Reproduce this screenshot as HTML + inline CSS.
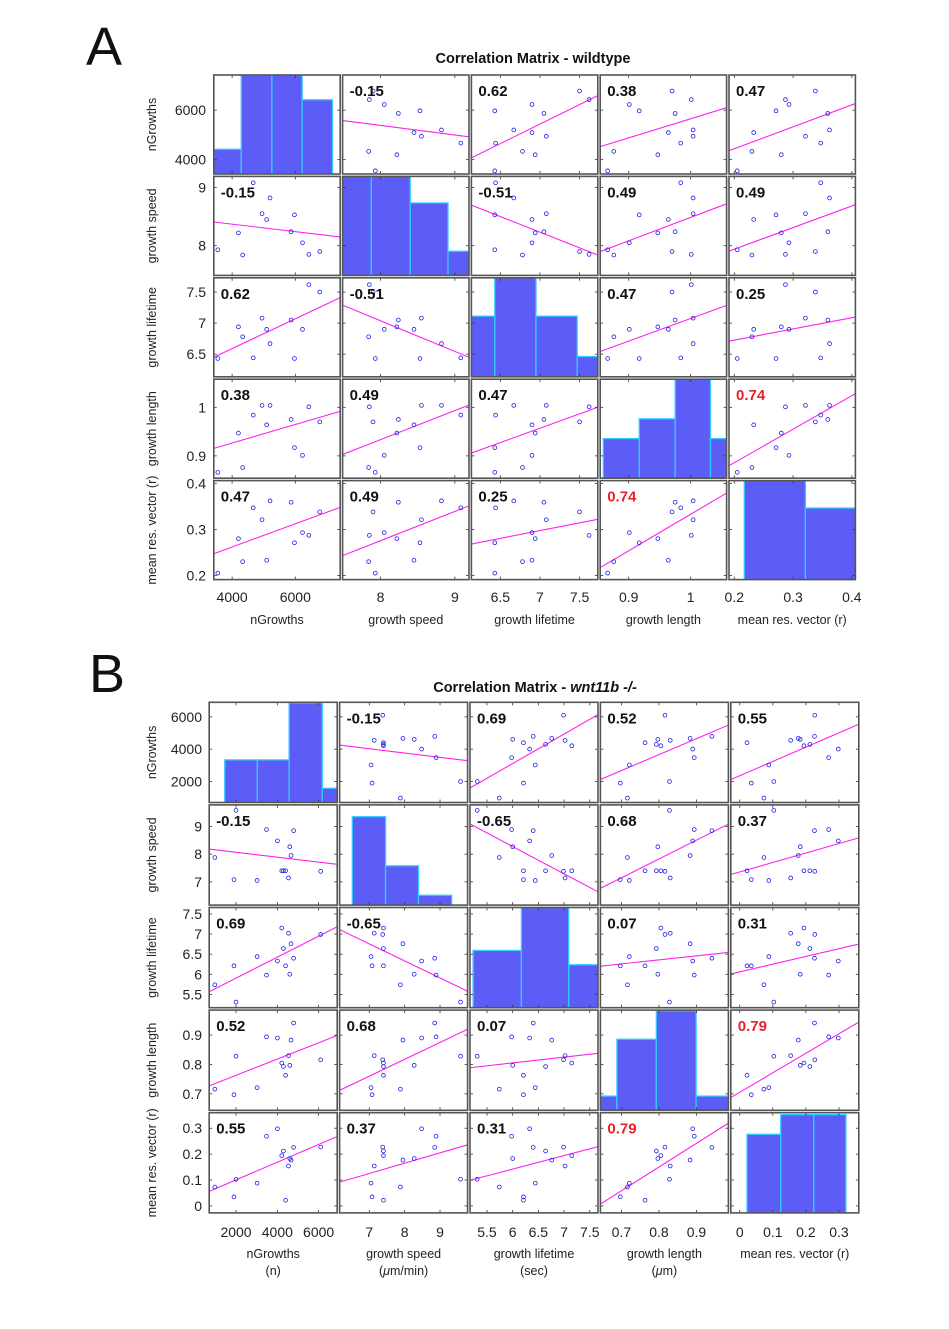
<!DOCTYPE html>
<html><head><meta charset="utf-8"><style>
html,body{margin:0;padding:0;background:#fff;}
svg{display:block;font-family:"Liberation Sans",Arial,sans-serif;}
</style></head><body>
<svg id="fig" width="949" height="1329" viewBox="0 0 949 1329" xmlns="http://www.w3.org/2000/svg"></svg>
<script>
// ---------- Panel A data (wildtype) ----------
const aNGrowths = [3547,4200,4333,4667,4947,5093,5200,5867,5973,6227,6427,6773];
const aSpeed    = [7.93,8.22,7.84,9.08,8.55,8.45,8.82,8.24,8.53,8.05,7.85,7.90];
const aLifetime = [6.43,6.94,6.78,6.44,7.08,6.90,6.67,7.05,6.43,6.90,7.62,7.50];
const aLength   = [0.866,0.947,0.876,0.984,1.004,0.964,1.004,0.975,0.917,0.901,1.001,0.970];
const aMRV      = [0.205,0.280,0.230,0.347,0.321,0.233,0.362,0.359,0.271,0.293,0.287,0.338];
const aCorr = ["-0.15","0.62","0.38","0.47","-0.51","0.49","0.49","0.47","0.25","0.74"];
const aTicks = [[4000,6000],[8,9],[6.5,7,7.5],[0.9,1],[0.2,0.3,0.4]];
const aTickLabels = [["4000","6000"],["8","9"],["6.5","7","7.5"],["0.9","1"],["0.2","0.3","0.4"]];
const aRanges = [[3420,7420],[7.49,9.19],[6.135,7.73],[0.854,1.058],[0.191,0.406]];
const aHistEdges = [[3419,4289,5259,6217,7174],[7.41,7.876,8.40,8.908,9.42],[5.91,6.43,6.95,7.47,7.99],[0.859,0.917,0.975,1.032,1.09],[0.217,0.321,0.425]];
const aHistCounts = [[1,4,4,3],[5,5,3,1],[3,6,3,1],[2,3,6,2],[6,3]];
const aHistMax = [4.0,4.1,4.9,5.0,4.15];

// ---------- Panel B data (wnt11b -/-) ----------
const bNGrowths = [972,1900,2000,3021,3477,4006,4215,4295,4400,4541,4603,4665,4788,6098];
const bSpeed    = [7.88,7.08,9.58,7.05,8.89,8.48,7.40,7.40,7.40,7.14,8.27,7.95,8.85,7.38];
const bLifetime = [5.74,6.21,5.31,6.44,5.98,6.33,7.15,6.64,6.21,7.02,6.00,6.76,6.40,6.99];
const bLength   = [0.716,0.697,0.828,0.721,0.894,0.890,0.805,0.793,0.763,0.830,0.797,0.883,0.941,0.816];
const bMRV      = [0.073,0.035,0.103,0.088,0.269,0.298,0.194,0.212,0.022,0.154,0.183,0.177,0.226,0.227];
const bCorr = ["-0.15","0.69","0.52","0.55","-0.65","0.68","0.37","0.07","0.31","0.79"];
const bTicks = [[2000,4000,6000],[7,8,9],[5.5,6,6.5,7,7.5],[0.7,0.8,0.9],[0,0.1,0.2,0.3]];
const bTickLabels = [["2000","4000","6000"],["7","8","9"],["5.5","6","6.5","7","7.5"],["0.7","0.8","0.9"],["0","0.1","0.2","0.3"]];
const bRanges = [[700,6900],[6.16,9.78],[5.17,7.66],[0.644,0.985],[-0.027,0.36]];
const bHistEdges = [[1452,3033,4571,6176,7748],[6.52,7.46,8.39,9.33],[5.23,6.17,7.09,8.01],[0.582,0.688,0.793,0.899,1.004],[0.022,0.124,0.224,0.321]];
const bHistCounts = [[3,3,7,1],[9,4,1],[4,7,3],[1,5,7,1],[4,5,5]];
const bHistMax = [7.05,10.2,7.0,7.05,5.1];

const varNames = ["nGrowths","growth speed","growth lifetime","growth length","mean res. vector (r)"];
const varSlugs = ["ngrowths","growth-speed","growth-lifetime","growth-length","mean-res-vector"];
const bUnits = ["(n)","(\u03bcm/min)","(sec)","(\u03bcm)",""];

const NS = "http://www.w3.org/2000/svg";
const svg = document.getElementById('fig');
function mk(tag, attrs, parent){
  const e = document.createElementNS(NS, tag);
  for (const k in attrs) e.setAttribute(k, attrs[k]);
  (parent||svg).appendChild(e);
  return e;
}
let clipId = 0;

function drawPanel(cfg){
  const g = mk('g', {});
  
  
  const data = cfg.data;
  const pitchX = cfg.pitchX, pitchY = cfg.pitchY, gap = 2.4;
  const cw = pitchX - gap, chh = pitchY - gap;
  // letter
  const L = mk('text', {x: cfg.letterX, y: cfg.letterY, 'font-size': 54, fill: '#111'}, g);
  L.textContent = cfg.letter;
  
  
  // title
  const T = mk('text', {x: cfg.titleX, y: cfg.titleY, 'font-size': 14.5, 'font-weight': 'bold', 'text-anchor': 'middle', fill: '#111'}, g);
  
  
  if (cfg.italic) {
    const t1 = mk('tspan', {}, T); t1.textContent = 'Correlation Matrix - ';
    const t2 = mk('tspan', {'font-style': 'italic'}, T); t2.textContent = cfg.italic;
  } else T.textContent = cfg.title;

  const pairIndex = (i,j)=>{ // i<j
    let k=0; for (let a=0;a<5;a++) for (let b=a+1;b<5;b++){ if(a===i&&b===j) return k; k++; } return -1;
  };

  for (let r=0;r<5;r++){
    for (let c=0;c<5;c++){
      const x0 = cfg.x0 + c*pitchX, y0 = cfg.y0 + r*pitchY;
      const cell = mk('g', {}, g);
      
      
      const cid = 'clip' + (clipId++);
      const cp = mk('clipPath', {id: cid}, cell);
      mk('rect', {x: x0, y: y0, width: cw, height: chh}, cp);
      const inner = mk('g', {'clip-path': 'url(#' + cid + ')'}, cell);
      const xr = cfg.ranges[c], yr = cfg.ranges[r];
      const sx = v => x0 + (v - xr[0])/(xr[1]-xr[0])*cw;
      const sy = v => y0 + chh - (v - yr[0])/(yr[1]-yr[0])*chh;
      if (r===c){
        const edges = cfg.histEdges[c], counts = cfg.histCounts[c], hm = cfg.histMax[c];
        for (let k=0;k<counts.length;k++){
          const xa = sx(edges[k]), xb = sx(edges[k+1]);
          const h = counts[k]/hm*chh;
          const bar = mk('rect', {x: xa, y: y0+chh-h, width: xb-xa, height: h+2, fill: '#5c5cf7', stroke: '#33ccff', 'stroke-width': 1.3}, inner);
          
          
        }
      } else {
        const xs = data[c], ys = data[r];
        // least squares fit
        const n = xs.length;
        let mx=0,my=0; for(let k=0;k<n;k++){mx+=xs[k];my+=ys[k];} mx/=n; my/=n;
        let sxy=0,sxx=0; for(let k=0;k<n;k++){sxy+=(xs[k]-mx)*(ys[k]-my);sxx+=(xs[k]-mx)**2;}
        const slope = sxy/sxx, icpt = my - slope*mx;
        const fit = mk('line', {x1: sx(xr[0]), y1: sy(icpt+slope*xr[0]), x2: sx(xr[1]), y2: sy(icpt+slope*xr[1]), stroke: '#ff22ee', 'stroke-width': 1.1}, inner);
        
        
        for (let k=0;k<n;k++){
          const p = mk('circle', {cx: sx(xs[k]), cy: sy(ys[k]), r: 1.9, fill: 'none', stroke: '#2020e8', 'stroke-width': 0.8}, inner);
          
          
        }
        const pi = pairIndex(Math.min(r,c), Math.max(r,c));
        const lab = cfg.corr[pi];
        const ct = mk('text', {x: x0+7, y: y0+21, 'font-size': 15, 'font-weight': 'bold', fill: Math.abs(parseFloat(lab))>=0.7 ? '#e8202a' : '#111'}, cell);
        ct.textContent = lab;
        
        
      }
      // ticks
      cfg.ticks[c].forEach(v=>{
        const x = sx(v);
        if (x < x0 || x > x0+cw) return;
        mk('line', {x1:x, y1:y0, x2:x, y2:y0+3, stroke:'#333', 'stroke-width':0.8}, cell);
        mk('line', {x1:x, y1:y0+chh, x2:x, y2:y0+chh-3, stroke:'#333', 'stroke-width':0.8}, cell);
      });
      cfg.ticks[r].forEach(v=>{
        const y = sy(v);
        if (y < y0 || y > y0+chh) return;
        mk('line', {x1:x0, y1:y, x2:x0+3, y2:y, stroke:'#333', 'stroke-width':0.8}, cell);
        mk('line', {x1:x0+cw, y1:y, x2:x0+cw-3, y2:y, stroke:'#333', 'stroke-width':0.8}, cell);
      });
      const box = mk('rect', {x: x0, y: y0, width: cw, height: chh, fill: 'none', stroke: '#555', 'stroke-width': 1.6}, cell);
      
      

      // x tick labels (bottom row)
      if (r===4){
        cfg.ticks[c].forEach((v,k)=>{
          const t = mk('text', {x: sx(v), y: cfg.xTickY, 'font-size': 14, 'text-anchor': 'middle', fill: '#222'}, g);
          t.textContent = cfg.tickLabels[c][k];
          
          
        });
      }
      // y tick labels (first column)
      if (c===0){
        cfg.ticks[r].forEach((v,k)=>{
          const y = sy(v);
          const t = mk('text', {x: cfg.yTickX, y: y+5, 'font-size': 14, 'text-anchor': 'end', fill: '#222'}, g);
          t.textContent = cfg.tickLabels[r][k];
          
          
        });
      }
    }
  }
  // axis titles
  for (let i=0;i<5;i++){
    const cx = cfg.x0 + i*pitchX + cw/2;
    const xt = mk('text', {x: cx, y: cfg.xTitleY, 'font-size': 12.5, 'text-anchor': 'middle', fill: '#222'}, g);
    xt.textContent = varNames[i];
    
    
    if (cfg.units && cfg.units[i]){
      const ut = mk('text', {x: cx, y: cfg.xTitleY+17, 'font-size': 12.5, 'text-anchor': 'middle', fill: '#222'}, g);
      const u = cfg.units[i];
      if (u.indexOf('\u03bc')>=0){
        const parts = u.split('\u03bc');
        const s1 = mk('tspan', {}, ut); s1.textContent = parts[0];
        const s2 = mk('tspan', {'font-style':'italic'}, ut); s2.textContent = '\u03bc';
        const s3 = mk('tspan', {}, ut); s3.textContent = parts[1];
      } else ut.textContent = u;
      
      
    }
    const cy = cfg.y0 + i*pitchY + chh/2;
    const yt = mk('text', {x: cfg.yTitleX, y: cy, 'font-size': 12.5, 'text-anchor': 'middle', fill: '#222', transform: 'rotate(-90 ' + cfg.yTitleX + ' ' + cy + ')'}, g);
    yt.textContent = varNames[i];
    
    
  }
}

drawPanel({slug:'panel-a-wildtype', letter:'A', letterX:86, letterY:65,
  title:'Correlation Matrix - wildtype', titleX:533, titleY:63,
  data:[aNGrowths,aSpeed,aLifetime,aLength,aMRV], corr:aCorr, ticks:aTicks, tickLabels:aTickLabels,
  ranges:aRanges, histEdges:aHistEdges, histCounts:aHistCounts, histMax:aHistMax,
  x0:213.8, y0:75, pitchX:128.8, pitchY:101.4,
  xTickY:602, xTitleY:624, yTickX:206, yTitleX:156, units:null});

drawPanel({slug:'panel-b-wnt11b', letter:'B', letterX:89, letterY:692,
  italic:'wnt11b -/-', titleX:535, titleY:692,
  data:[bNGrowths,bSpeed,bLifetime,bLength,bMRV], corr:bCorr, ticks:bTicks, tickLabels:bTickLabels,
  ranges:bRanges, histEdges:bHistEdges, histCounts:bHistCounts, histMax:bHistMax,
  x0:209.2, y0:702.3, pitchX:130.4, pitchY:102.6,
  xTickY:1237, xTitleY:1258, yTickX:202, yTitleX:156, units:bUnits});
</script>
</body></html>
